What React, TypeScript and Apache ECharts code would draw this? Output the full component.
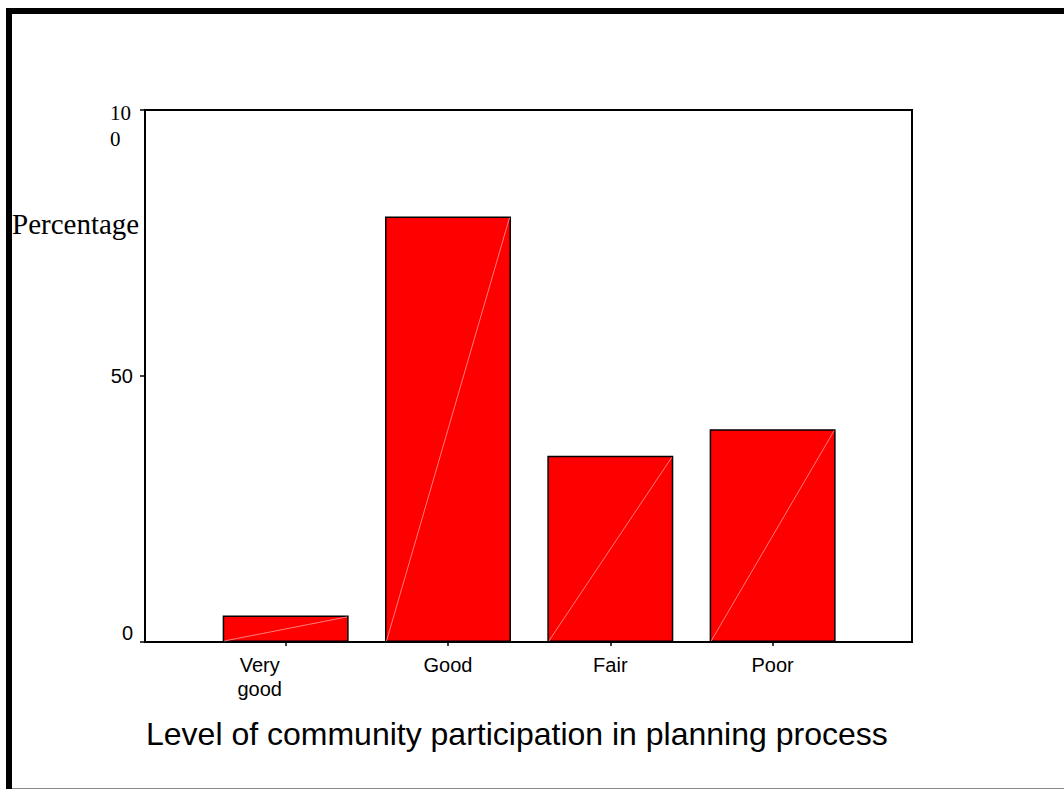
import React, { useEffect, useRef } from "react";
import * as echarts from "echarts";

// Survey answers and their share of respondents (%)
const CATEGORIES: string[] = ["Very good", "Good", "Fair", "Poor"];
const PERCENTAGES: number[] = [5, 80, 35, 40];

// Value axis range and tick step
const Y_MIN = 0;
const Y_MAX = 100;
const Y_STEP = 50;

const X_TITLE = "Level of community participation in planning process";
const Y_TITLE = "Percentage";

// Fraction of each category band taken by its bar
const BAR_RATIO = 0.776;

const SANS = "'Liberation Sans', Arial, sans-serif";
const SERIF = "'Liberation Serif', 'Times New Roman', serif";

const W = 1064;
const H = 790;

export default function App() {
  const ref = useRef<HTMLDivElement | null>(null);

  useEffect(() => {
    if (!ref.current) return;
    const chart = echarts.init(ref.current, null, { renderer: "svg", width: W, height: H });

    const yLabel = (v: number): string => {
      if (v === Y_MAX) {
        // "100" wraps onto two lines in the original layout
        const s = String(v);
        return "{pad| }\n{serif|" + s.slice(0, 2) + "}\n{serif|" + s.slice(2) + "}";
      }
      if (v === Y_MIN) return "{zero|" + v + "}";
      return "{sans|" + v + "}";
    };

    const xLabel = (v: string): string => {
      if (v.indexOf(" ") >= 0) {
        return v
          .split(" ")
          .map((w) => "{shift|" + w + "}")
          .join("\n");
      }
      return "{sans|" + v + "}";
    };

    const option: echarts.EChartsOption = {
      animation: false,
      backgroundColor: "#ffffff",
      title: [
        {
          text: X_TITLE,
          left: 146,
          top: 718,
          padding: 0,
          textStyle: { fontFamily: SANS, fontSize: 32, fontWeight: "normal", color: "#000" },
        },
        {
          text: Y_TITLE,
          left: 12,
          top: 209,
          padding: 0,
          textStyle: { fontFamily: SERIF, fontSize: 29, fontWeight: "normal", color: "#000" },
        },
      ],
      grid: [
        // outer plot frame
        {
          left: 145,
          top: 110,
          width: 767,
          height: 532,
          show: true,
          borderColor: "#000",
          borderWidth: 2,
          backgroundColor: "transparent",
        },
        // band for the bars
        {
          left: 204.5,
          top: 110,
          width: 649.3,
          height: 532,
        },
      ],
      xAxis: [
        { type: "value", gridIndex: 0, show: false, min: 0, max: 1 },
        {
          type: "category",
          gridIndex: 1,
          data: CATEGORIES,
          boundaryGap: true,
          axisLine: { show: false },
          axisTick: {
            show: true,
            alignWithLabel: true,
            length: 4,
            lineStyle: { color: "#000", width: 1.5 },
          },
          axisLabel: {
            margin: 11,
            interval: 0,
            color: "#000",
            fontFamily: SANS,
            fontSize: 20,
            lineHeight: 24,
            formatter: xLabel,
            rich: {
              sans: { fontFamily: SANS, fontSize: 20, lineHeight: 24, color: "#000" },
              shift: {
                fontFamily: SANS,
                fontSize: 20,
                lineHeight: 24,
                color: "#000",
                padding: [0, 52, 0, 0],
              },
            },
          },
          splitLine: { show: false },
        },
      ],
      yAxis: [
        {
          type: "value",
          gridIndex: 0,
          min: Y_MIN,
          max: Y_MAX,
          interval: Y_STEP,
          axisLine: { show: true, lineStyle: { color: "#000", width: 2 } },
          axisTick: { show: true, length: 5, lineStyle: { color: "#000", width: 1.5 } },
          splitLine: { show: false },
          axisLabel: {
            margin: 12,
            color: "#000",
            formatter: yLabel,
            rich: {
              sans: { fontFamily: SANS, fontSize: 20, color: "#000" },
              zero: { fontFamily: SANS, fontSize: 20, color: "#000", padding: [0, 0, 18, 0] },
              pad: { fontFamily: SERIF, fontSize: 21, lineHeight: 32 },
              serif: {
                fontFamily: SERIF,
                fontSize: 21,
                lineHeight: 26,
                color: "#000",
                align: "left",
                padding: [0, 2, 0, 0],
              },
            },
          },
        },
        { type: "value", gridIndex: 1, min: Y_MIN, max: Y_MAX, show: false },
      ],
      series: [
        {
          type: "bar",
          xAxisIndex: 1,
          yAxisIndex: 1,
          data: PERCENTAGES,
          barWidth: BAR_RATIO * 100 + "%",
          z: 2,
          itemStyle: { color: "#ff0000", borderColor: "#000", borderWidth: 1.5 },
          emphasis: { disabled: true },
        },
        {
          // faint corner-to-corner seam across each bar
          type: "custom",
          xAxisIndex: 1,
          yAxisIndex: 1,
          silent: true,
          z: 3,
          data: PERCENTAGES.map((v, i) => [i, v]),
          encode: { x: 0, y: 1 },
          renderItem: (params: any, api: any) => {
            const i = api.value(0);
            const v = api.value(1);
            const top = api.coord([i, v]);
            const base = api.coord([i, 0]);
            const half = (api.size([1, 0])[0] * BAR_RATIO) / 2;
            return {
              type: "line",
              shape: {
                x1: top[0] - half + 1.5,
                y1: base[1] - 1,
                x2: top[0] + half - 1.5,
                y2: top[1] + 1.5,
              },
              style: { stroke: "#ff9c9c", lineWidth: 0.8 },
            };
          },
        },
      ],
      graphic: [
        // page border
        { type: "line", shape: { x1: 9, y1: 8, x2: 9, y2: 789 }, style: { stroke: "#000", lineWidth: 6 } },
        { type: "line", shape: { x1: 6, y1: 11, x2: W, y2: 11 }, style: { stroke: "#000", lineWidth: 6 } },
        { type: "line", shape: { x1: 12, y1: 788.5, x2: W, y2: 788.5 }, style: { stroke: "#888", lineWidth: 1 } },
      ],
    };

    chart.setOption(option);
    return () => {
      chart.dispose();
    };
  }, []);

  return (
    <div
      ref={ref}
      style={{ position: "absolute", left: 0, top: 0, width: W, height: H, background: "#fff" }}
    />
  );
}
